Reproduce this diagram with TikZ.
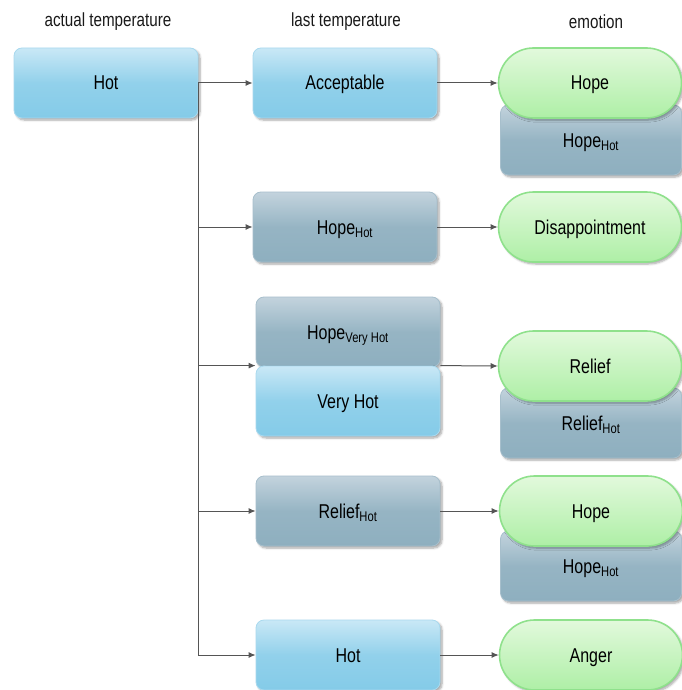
\documentclass[tikz,border=0pt]{standalone}
\usepackage{fontspec}
\setmainfont{Liberation Sans}[FakeStretch=0.8]
\usetikzlibrary{arrows.meta,shapes.misc,shadows.blur}

\definecolor{bluetop}{HTML}{C9E8F6}
\definecolor{bluebot}{HTML}{84CBE8}
\definecolor{blueline}{HTML}{A9D9EE}
\definecolor{graytop}{HTML}{C3D3DD}
\definecolor{graybot}{HTML}{8EAFBF}
\definecolor{grayline}{HTML}{A7BFCC}
\definecolor{greentop}{HTML}{E2F9DC}
\definecolor{greenbot}{HTML}{AEEFA6}
\definecolor{greenline}{HTML}{8FE18C}
\definecolor{wire}{HTML}{555555}

\tikzset{
  boxbase/.style={rounded corners=8pt, minimum width=184pt, minimum height=70pt,
    inner sep=0pt, text height=14pt, text depth=0pt,
    font=\fontsize{20}{23}\selectfont, text=black,
    blur shadow={shadow blur steps=6, shadow xshift=2pt, shadow yshift=-2pt, shadow opacity=35}},
  bluebox/.style={boxbase, draw=blueline, line width=0.8pt,
    top color=bluetop, bottom color=bluebot, middle color=bluebot!80!bluetop},
  graybox/.style={boxbase, draw=grayline, line width=0.8pt,
    top color=graytop, bottom color=graybot, middle color=graybot!85!graytop},
  pill/.style={rounded rectangle, minimum width=183pt, minimum height=70pt,
    inner sep=0pt, text height=14pt, text depth=0pt,
    font=\fontsize{20}{23}\selectfont, text=black,
    draw=greenline, line width=1.6pt, top color=greentop, bottom color=greenbot,
    blur shadow={shadow blur steps=6, shadow xshift=2pt, shadow yshift=-2pt, shadow opacity=35}},
  header/.style={font=\fontsize{19}{22}\selectfont, text=black!90},
  link/.style={draw=wire, line width=1pt, -{Latex[length=7pt,width=6pt]}}
}

\begin{document}
\begin{tikzpicture}[x=1pt,y=-1pt]
\useasboundingbox (0,0) rectangle (681,690);

% column headers
\node[header] (h1) at (108,22) {actual temperature};
\node[header] (h2) at (346,22) {last temperature};
\node[header] (h3) at (596,22) {emotion};

% row 1
\node[bluebox] (hot) at (106,83) {Hot};
\node[bluebox] (acc) at (345,83) {Acceptable};
\node[graybox, minimum width=181pt] (e1b) at (591,140) {Hope\textsubscript{Hot}};
\node[pill] (e1) at (590,83) {Hope};

% row 2
\node[graybox] (r2) at (345,227) {Hope\textsubscript{Hot}};
\node[pill] (e2) at (590,227) {Disappointment};

% row 3
\node[graybox] (r3a) at (348,332) {Hope\textsubscript{Very Hot}};
\node[bluebox] (r3) at (348,401) {Very Hot};
\node[graybox, minimum width=181pt] (e3b) at (591,423) {Relief\textsubscript{Hot}};
\node[pill] (e3) at (590,366) {Relief};

% row 4
\node[graybox] (r4) at (348,511) {Relief\textsubscript{Hot}};
\node[graybox, minimum width=181pt] (e4b) at (591,566) {Hope\textsubscript{Hot}};
\node[pill] (e4) at (591,511) {Hope};

% row 5
\node[bluebox] (r5) at (348,655) {Hot};
\node[pill] (e5) at (591,655) {Anger};

% connectors
\coordinate (r3in) at (r3.north west);
\coordinate (r3out) at (r3.north east);
\draw[link] (hot.east) -- (acc.west);
\draw[link] (hot.east) |- (r2.west);
\draw[link] (hot.east) |- (r3in);
\draw[link] (hot.east) |- (r4.west);
\draw[link] (hot.east) |- (r5.west);

\draw[link] (acc.east) -- (e1.west);
\draw[link] (r2.east) -- (e2.west);
\draw[link] (r3out) -- (e3.west);
\draw[link] (r4.east) -- (e4.west);
\draw[link] (r5.east) -- (e5.west);
\end{tikzpicture}
\end{document}
